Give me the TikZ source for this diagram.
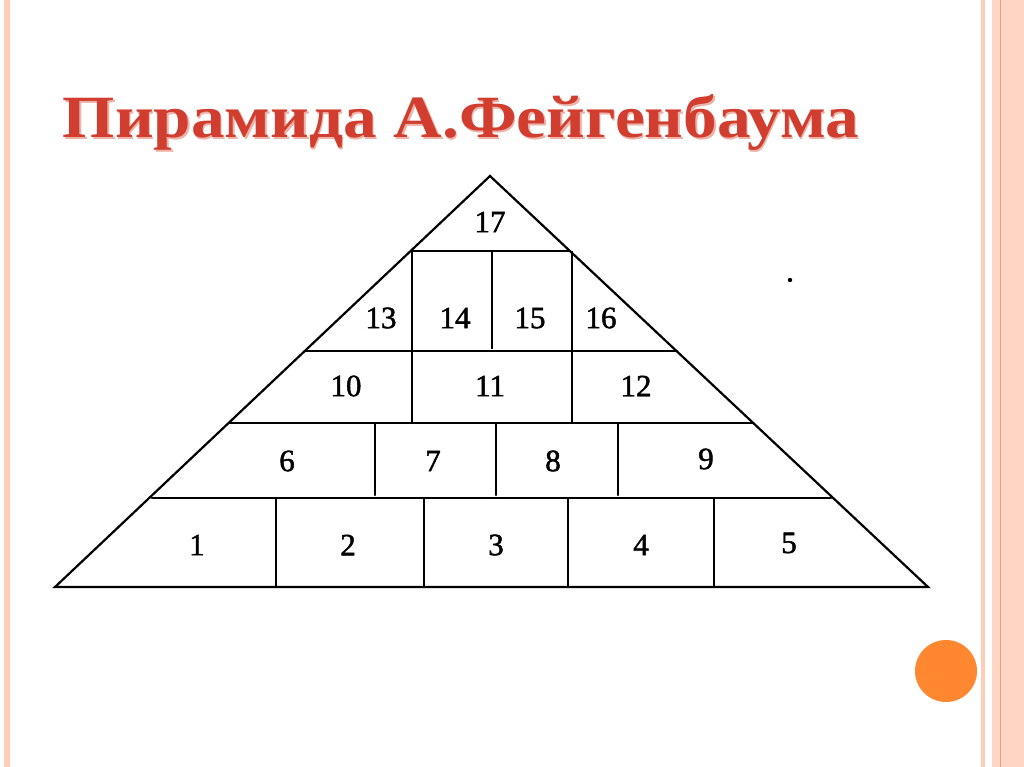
\documentclass[tikz,border=0pt]{standalone}
\usepackage{fontspec}
\setmainfont{Liberation Serif}
\newfontfamily\numfont[FakeBold=1.5]{Liberation Serif}
\definecolor{peach}{rgb}{1,0.80,0.72}
\definecolor{peachlight}{rgb}{1,0.84,0.77}
\definecolor{peachdark}{rgb}{0.93,0.62,0.46}
\definecolor{titlered}{rgb}{0.82,0.24,0.18}
\definecolor{titleshade}{rgb}{0.93,0.70,0.66}
\definecolor{ballorange}{rgb}{1,0.53,0.19}
\begin{document}
\begin{tikzpicture}[x=1pt,y=-1pt,
  edge/.style={line width=2.2pt, black, line cap=round},
  boldedge/.style={line width=2.8pt, black},
  num/.style={font=\numfont\fontsize{31}{31}\selectfont, inner sep=0pt},
  titletext/.style={font=\fontsize{60}{60}\selectfont\bfseries, inner sep=0pt, anchor=base, xscale=1.12}]
\useasboundingbox (0,0) rectangle (1024,767);
\fill[white] (0,0) rectangle (1024,767);
% borders
\fill[peach] (3.5,0) rectangle (9.5,767);
\fill[peach] (981,0) rectangle (985,767);
\fill[peachlight] (992,0) rectangle (1024,767);
\draw[peachdark, line width=1pt] (1000,0) -- (1000,767);
% title
\node[titletext, text=titleshade] (titleshadow) at (462.5,139.5) {Пирамида А.Фейгенбаума};
\node[titletext, text=titlered] (title) at (461,138) {Пирамида А.Фейгенбаума};
% ball and dot
\fill[ballorange] (946,671) circle (31);
\fill[black] (790,280) circle (2.2);
% pyramid
\coordinate (A) at (490,176);
\coordinate (BL) at (55,587);
\coordinate (BR) at (928,587);
\draw[edge, line join=miter] (BL) -- (A) -- (BR) -- cycle;
\draw[edge] (152,498) -- (831,498);
\draw[edge] (229,423) -- (753,423);
\draw[edge] (305,351) -- (677,351);
\draw[boldedge] (411,251) -- (571,251);
% row 1 verticals
\foreach \x in {276,424,568,714} \draw[edge] (\x,498) -- (\x,587);
% row 2 verticals
\foreach \x in {375,496,618} \draw[edge] (\x,423) -- (\x,495);
% center block
\draw[boldedge] (412,251) -- (412,423);
\draw[boldedge] (572,251) -- (572,423);
\draw[boldedge] (492,251) -- (492,349);
% labels
\node[num] (n17) at (490,222) {17};
\node[num] (n13) at (381,318) {13};
\node[num] (n14) at (455,318) {14};
\node[num] (n15) at (530,318) {15};
\node[num] (n16) at (601,318) {16};
\node[num] (n10) at (346,386) {10};
\node[num] (n11) at (490,386) {11};
\node[num] (n12) at (636,386) {12};
\node[num] (n6) at (287,461) {6};
\node[num] (n7) at (433,461) {7};
\node[num] (n8) at (553,461) {8};
\node[num] (n9) at (706,459) {9};
\node[num] (n1) at (197,545) {1};
\node[num] (n2) at (348,545) {2};
\node[num] (n3) at (496,545) {3};
\node[num] (n4) at (641,545) {4};
\node[num] (n5) at (789,543) {5};
\end{tikzpicture}
\end{document}
